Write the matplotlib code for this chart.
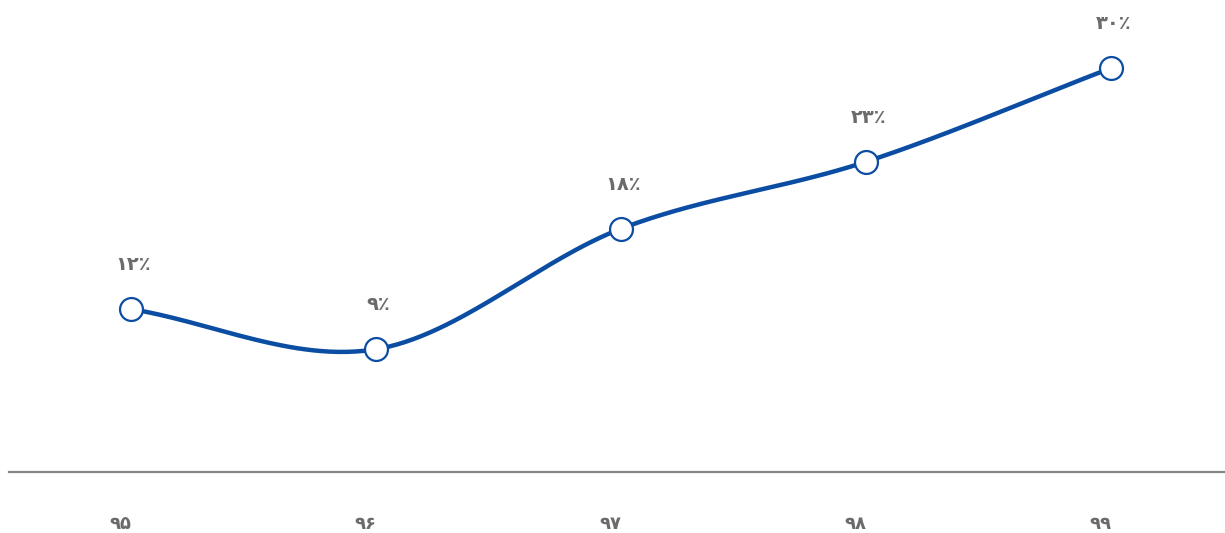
import numpy as np
import matplotlib
matplotlib.use("Agg")
import matplotlib.pyplot as plt
from matplotlib.transforms import ScaledTranslation

plt.rcParams['font.family'] = ['DejaVu Sans']

years = ['۹۵', '۹۶', '۹۷', '۹۸', '۹۹']
values = [12, 9, 18, 23, 30]
value_labels = ['۱۲٪', '۹٪', '۱۸٪', '۲۳٪', '۳۰٪']

LINE_BLUE = '#0b4da2'
TEXT_GREY = '#6b6b6b'


def catmull_rom(xs, ys, steps=60):
    """Smooth curve through the points using Catmull-Rom tangents."""
    xs = np.asarray(xs, float)
    ys = np.asarray(ys, float)
    n = len(xs)
    m = np.zeros(n)
    for i in range(n):
        if i == 0:
            m[i] = (ys[1] - ys[0]) / (xs[1] - xs[0])
        elif i == n - 1:
            m[i] = (ys[-1] - ys[-2]) / (xs[-1] - xs[-2])
        else:
            m[i] = (ys[i + 1] - ys[i - 1]) / (xs[i + 1] - xs[i - 1])
    out_x, out_y = [], []
    for i in range(n - 1):
        h = xs[i + 1] - xs[i]
        t = np.linspace(0, 1, steps)
        h00 = 2 * t**3 - 3 * t**2 + 1
        h10 = t**3 - 2 * t**2 + t
        h01 = -2 * t**3 + 3 * t**2
        h11 = t**3 - t**2
        out_x.append(xs[i] + t * h)
        out_y.append(h00 * ys[i] + h10 * h * m[i] + h01 * ys[i + 1] + h11 * h * m[i + 1])
    return np.concatenate(out_x), np.concatenate(out_y)


x = np.arange(len(values))
sx, sy = catmull_rom(x, values)

fig = plt.figure(figsize=(12.25, 5.33), dpi=100)
ax = fig.add_axes([0.0073, 0.1144, 0.9927, 0.8856])

ax.plot(sx, sy, color=LINE_BLUE, lw=3.2, solid_capstyle='round', zorder=2)
ax.plot(x, values, 'o', ms=16.5, mfc='white', mec=LINE_BLUE, mew=1.6, zorder=3)

for xi, v, lab in zip(x, values, value_labels):
    ax.annotate(lab, (xi, v), xytext=(1.5, 32), textcoords='offset points',
                ha='center', va='center', fontsize=14, fontweight='bold',
                color=TEXT_GREY)

ax.set_xlim(-0.498, 4.465)
ax.set_ylim(-0.17, 35.08)

for s in ['top', 'right', 'left']:
    ax.spines[s].set_visible(False)
ax.spines['bottom'].set_color('#858585')
ax.spines['bottom'].set_linewidth(1.6)

ax.set_yticks([])
ax.set_xticks(x)
ax.set_xticklabels(years, fontsize=13, fontweight='bold', color=TEXT_GREY)
ax.tick_params(axis='x', length=0, pad=31)
shift = ScaledTranslation(-11 / 100, 0, fig.dpi_scale_trans)
for t in ax.get_xticklabels():
    t.set_transform(t.get_transform() + shift)

fig.savefig('out.png', dpi=100)
